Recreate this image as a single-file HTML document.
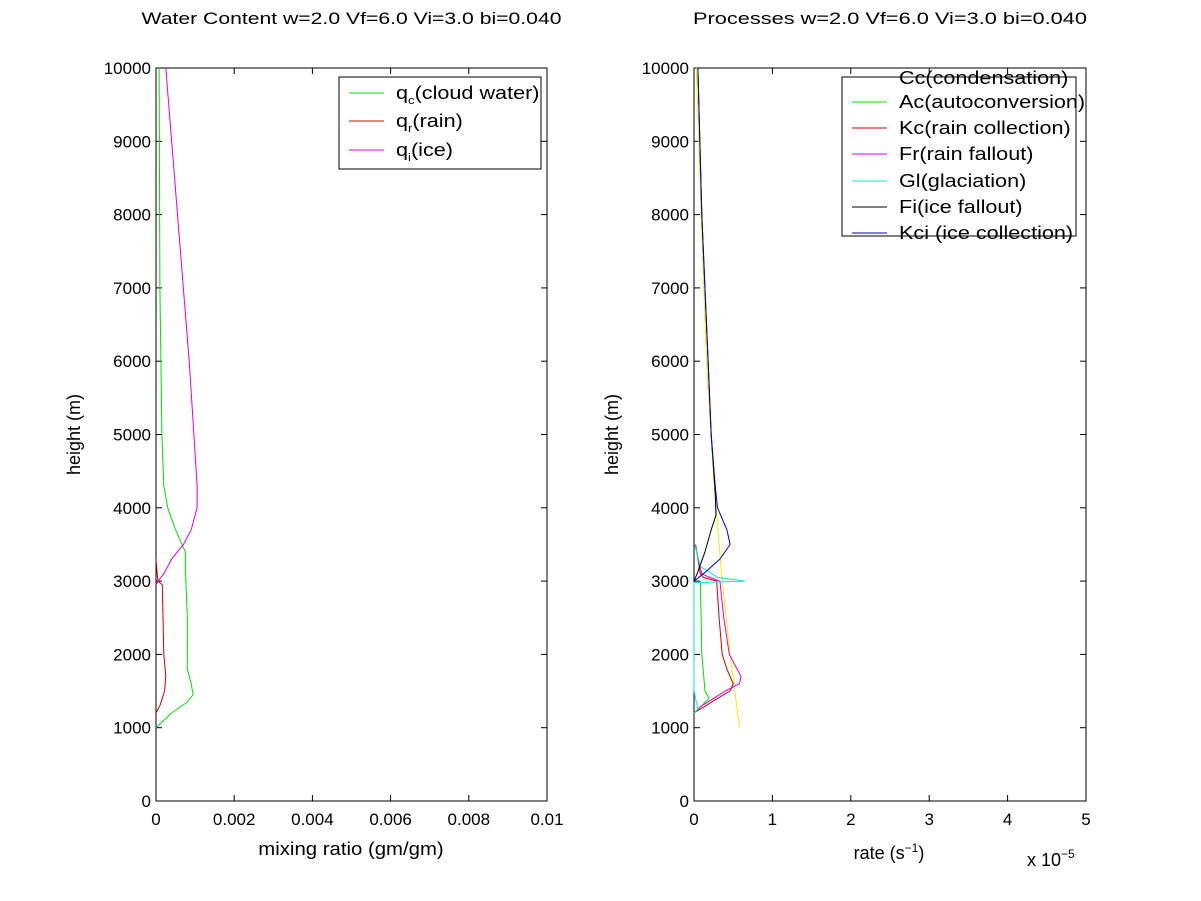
<!DOCTYPE html>
<html><head><meta charset="utf-8"><style>
body{margin:0;background:#fff;}
svg{display:block;font-family:"Liberation Sans",sans-serif;}
</style></head><body>
<svg id="fig" width="1201" height="901" viewBox="0 0 1201 901">
<rect width="1201" height="901" fill="#fff"/>
</svg>
<script>
// ---- data ----
const heightTicks=[0,1000,2000,3000,4000,5000,6000,7000,8000,9000,10000];
const leftXTicks=[0,0.002,0.004,0.006,0.008,0.01];
const leftXTickLabels=["0","0.002","0.004","0.006","0.008","0.01"];
const rightXTicks=[0,1,2,3,4,5];
// left panel series (height m, mixing ratio)
const qcH=[10000,7000,5000,4300,4000,3700,3400,3200,2500,1800,1600,1450,1350,1200,1000];
const qcV=[0.00008,0.0001,0.00015,0.0002,0.0003,0.0005,0.00075,0.00075,0.0008,0.0008,0.0009,0.00095,0.0008,0.0004,0];
const qrH=[3300,3100,3000,2950,2500,2000,1700,1500,1300,1200];
const qrV=[0,0.00003,0.00005,0.00016,0.00018,0.0002,0.00025,0.00022,0.0001,0];
const qiH=[10000,8000,6000,5000,4300,4000,3700,3500,3300,3100,3000,2950];
const qiV=[0.00025,0.00055,0.00085,0.00097,0.00105,0.00105,0.0009,0.0007,0.0004,0.0002,0.00005,0];
// right panel series (height m, rate x1e-5)
const ccH=[10000,8000,6000,4400,3000,2000,1000];
const ccV=[0.03,0.09,0.16,0.25,0.36,0.46,0.58];
const acH=[3000,2500,2000,1500,1400,1300,1200];
const acV=[0.08,0.09,0.1,0.14,0.19,0.1,0];
const kcH=[3500,3100,3050,3000,2500,2000,1800,1600,1500,1400,1300,1200];
const kcV=[0.02,0.08,0.12,0.29,0.32,0.36,0.42,0.5,0.46,0.3,0.15,0];
const frH=[3500,3100,3050,3000,2500,2000,1800,1700,1600,1500,1400,1300,1200];
const frV=[0.01,0.1,0.2,0.33,0.38,0.45,0.55,0.6,0.58,0.4,0.25,0.1,0];
const glH=[3500,3200,3050,3000,2980,2500,2000,1500,1250,1200];
const glV=[0.01,0.08,0.3,0.65,0,0,0,0,0.05,0];
const fiH=[10000,8000,6000,5000,4200,3900,3700,3400,3100,3000];
const fiV=[0.05,0.1,0.18,0.22,0.27,0.28,0.22,0.14,0.04,0];
const kciH=[10000,8000,6000,5000,4300,4000,3700,3500,3300,3100,3000];
const kciV=[0.05,0.1,0.18,0.22,0.27,0.3,0.42,0.46,0.33,0.12,0];

const NS="http://www.w3.org/2000/svg";
const svg=document.getElementById('fig');
function mk(tag,attrs,parent){const e=document.createElementNS(NS,tag);for(const k in attrs)e.setAttribute(k,attrs[k]);(parent||svg).appendChild(e);return e;}
function stretch(t,f){const w=t.getComputedTextLength();t.setAttribute('textLength',(w*f).toFixed(1));t.setAttribute('lengthAdjust','spacingAndGlyphs');}
const TOP=68,BOT=801;
function yS(h){return BOT-(h/10000)*(BOT-TOP);}

function panel(x0,x1,xmax,xTicks,xLabels,title,titleW,name){
  const g=mk('g',{});
  
  
  const xS=v=>x0+(v/xmax)*(x1-x0);
  const fr=mk('rect',{x:x0,y:TOP,width:x1-x0,height:BOT-TOP,fill:'none',stroke:'#000','stroke-width':1},g);
  
  
  heightTicks.forEach(h=>{
    const y=yS(h);
    mk('line',{x1:x0,y1:y,x2:x0+6,y2:y,stroke:'#000'},g);
    mk('line',{x1:x1,y1:y,x2:x1-6,y2:y,stroke:'#000'},g);
    const t=mk('text',{x:x0-5,y:y+6,'text-anchor':'end','font-size':17},g);
    t.textContent=h;
    
    
  });
  xTicks.forEach((v,i)=>{
    const x=xS(v);
    mk('line',{x1:x,y1:BOT,x2:x,y2:BOT-6,stroke:'#000'},g);
    mk('line',{x1:x,y1:TOP,x2:x,y2:TOP+6,stroke:'#000'},g);
    const t=mk('text',{x:x,y:BOT+24,'text-anchor':'middle','font-size':17},g);
    t.textContent=xLabels[i];
    
    
  });
  const yt=mk('text',{x:0,y:0,'text-anchor':'middle','font-size':18,transform:`translate(${x0-76},${(TOP+BOT)/2}) rotate(-90)`},g);
  yt.textContent='height (m)';
  
  
  const tt=mk('text',{x:(x0+x1)/2,y:24,'text-anchor':'middle','font-size':17},g);
  tt.textContent=title;
  tt.setAttribute('textLength',titleW);
  tt.setAttribute('lengthAdjust','spacingAndGlyphs');
  
  
  return {g,xS};
}
function series(p,H,V,color,name){
  const pts=H.map((h,i)=>p.xS(V[i]).toFixed(1)+','+yS(h).toFixed(1)).join(' ');
  const l=mk('polyline',{points:pts,fill:'none',stroke:color,'stroke-width':1,'stroke-linejoin':'round'},p.g);
  
  
}
const L=panel(156,547,0.01,leftXTicks,leftXTickLabels,'Water Content w=2.0 Vf=6.0 Vi=3.0 bi=0.040',420,'water-content');
series(L,qcH,qcV,'#00e000','line-cloud-water');
series(L,qrH,qrV,'#d00000','line-rain');
series(L,qiH,qiV,'#e000e0','line-ice');
const xl=mk('text',{x:351,y:855,'text-anchor':'middle','font-size':18},L.g);
xl.textContent='mixing ratio (gm/gm)';


stretch(xl,1.13);

const R=panel(694,1086,5,rightXTicks,rightXTicks.map(String),'Processes w=2.0 Vf=6.0 Vi=3.0 bi=0.040',394,'processes');
series(R,ccH,ccV,'#f0f000','line-condensation');
series(R,acH,acV,'#00e000','line-autoconversion');
series(R,kcH,kcV,'#d00000','line-rain-collection');
series(R,frH,frV,'#e000e0','line-rain-fallout');
series(R,glH,glV,'#00e8e8','line-glaciation');
series(R,fiH,fiV,'#000000','line-ice-fallout');
series(R,kciH,kciV,'#0000c0','line-ice-collection');
const xr=mk('text',{x:889,y:859,'text-anchor':'middle','font-size':18},R.g);
xr.innerHTML='rate (s<tspan dy="-7" font-size="12">−1</tspan><tspan dy="7">)</tspan>';


const ex=mk('text',{x:1027,y:866,'font-size':18},R.g);
ex.innerHTML='x 10<tspan dy="-8" font-size="12">−5</tspan>';



// legends
function legend(x,y,w,h,items,name){
  const g=mk('g',{});
  
  
  mk('rect',{x,y,width:w,height:h,fill:'#fff',stroke:'#000'},g);
  items.forEach(it=>{
    const e=mk('g',{},g);
    
    
    mk('line',{x1:x+10,y1:it.y,x2:x+45,y2:it.y,stroke:it.c},e);
    const t=mk('text',{x:x+57,y:it.y+6,'font-size':18},e);
    t.innerHTML=it.t;
    stretch(t,1.2);
  });
}
legend(339,77,202,92,[
 {y:93,c:'#00e000',t:'q<tspan dy="5" font-size="11">c</tspan><tspan dy="-5">(cloud water)</tspan>'},
 {y:121,c:'#d00000',t:'q<tspan dy="5" font-size="11">r</tspan><tspan dy="-5">(rain)</tspan>'},
 {y:150,c:'#e000e0',t:'q<tspan dy="5" font-size="11">i</tspan><tspan dy="-5">(ice)</tspan>'}],'legend-water');
legend(842,77,234,159,[
 {y:78,c:'#ffffff',t:'Cc(condensation)'},
 {y:102,c:'#00e000',t:'Ac(autoconversion)'},
 {y:128,c:'#d00000',t:'Kc(rain collection)'},
 {y:154,c:'#e000e0',t:'Fr(rain fallout)'},
 {y:181,c:'#00e8e8',t:'Gl(glaciation)'},
 {y:207,c:'#000000',t:'Fi(ice fallout)'},
 {y:233,c:'#0000c0',t:'Kci (ice collection)'}],'legend-processes');
</script>
</body></html>
